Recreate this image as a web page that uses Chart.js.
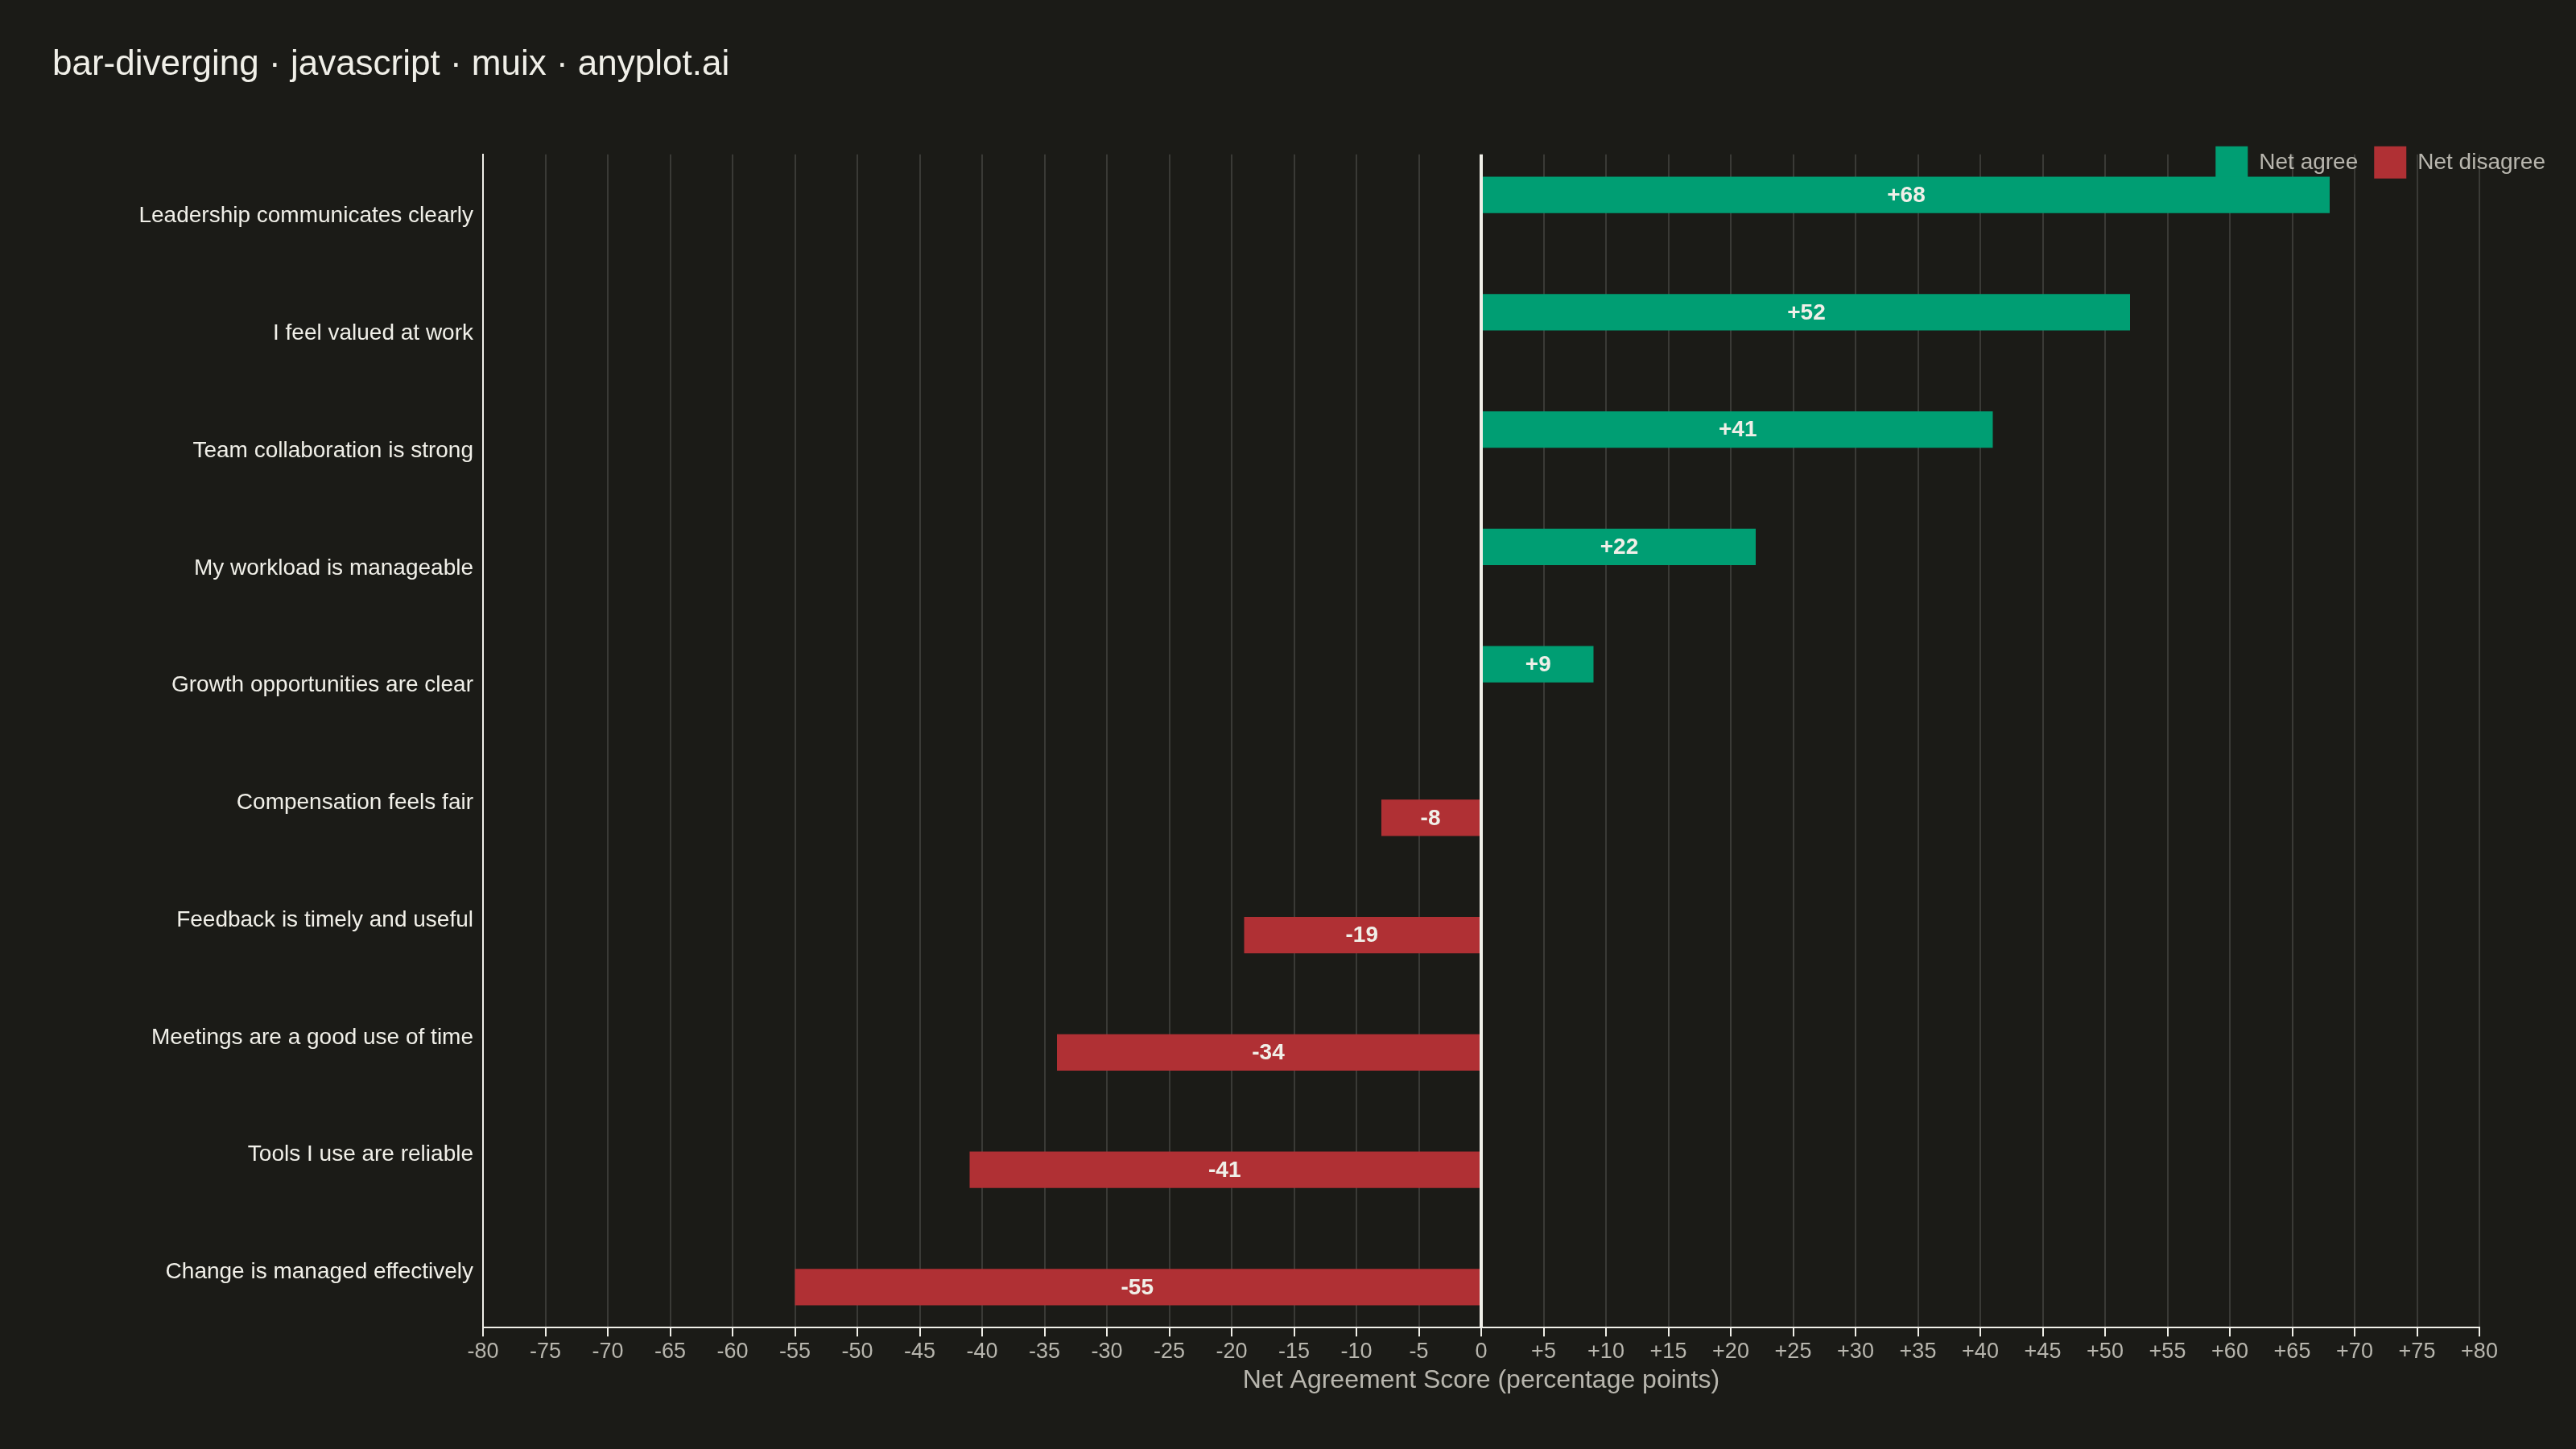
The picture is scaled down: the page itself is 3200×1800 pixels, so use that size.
<!DOCTYPE html>
<html>
<head>
<meta charset="utf-8">
<title>bar-diverging</title>
<script src="https://cdn.jsdelivr.net/npm/chart.js@4.4.1/dist/chart.umd.min.js"></script>
<style>
  html, body { margin: 0; padding: 0; background: #1b1b17; }
  #wrap { width: 3200px; height: 1800px; }
</style>
</head>
<body>
<div id="wrap"><canvas id="diverging" width="3200" height="1800"></canvas></div>
<script>
const statements = [
  "Leadership communicates clearly",
  "I feel valued at work",
  "Team collaboration is strong",
  "My workload is manageable",
  "Growth opportunities are clear",
  "Compensation feels fair",
  "Feedback is timely and useful",
  "Meetings are a good use of time",
  "Tools I use are reliable",
  "Change is managed effectively",
];
const netAgree = [68, 52, 41, 22, 9, null, null, null, null, null];
const netDisagree = [null, null, null, null, null, -8, -19, -34, -41, -55];
const scoreMin = -80;
const scoreMax = 80;
const scoreStep = 5;

const BG = "#1b1b17";
const CREAM = "#f0efe8";
const GRAY = "#b8b6ae";
const GRID = "#3a3a36";
const FONT = '"Liberation Sans", Arial, sans-serif';

Chart.defaults.font.family = FONT;

var signed = function (v) {
  return v > 0 ? "+" + v : String(v);
};

// paint the dark background behind everything
const background = {
  id: "background",
  beforeDraw(chart) {
    const ctx = chart.ctx;
    ctx.save();
    ctx.fillStyle = BG;
    ctx.fillRect(0, 0, chart.width, chart.height);
    ctx.restore();
  },
};

// legend sits in the top-right corner and overlaps the plot a little
const legendPlacement = {
  id: "legendPlacement",
  beforeUpdate(chart) {
    const legend = chart.legend;
    if (!legend || legend._squeezed) return;
    const fit = legend.fit;
    legend.fit = function () {
      fit.call(this);
      this._fullHeight = this.height;
      this.height = 30;
    };
    legend._squeezed = true;
  },
  afterLayout(chart) {
    const legend = chart.legend;
    legend.left += 102;
    legend.right += 102;
    // give the clip box back its real height so the items are not cut off
    legend.height = legend._fullHeight;
    legend.bottom = legend.top + legend._fullHeight;
  },
};

// value labels in the middle of each bar
const barLabels = {
  id: "barLabels",
  afterDatasetsDraw(chart) {
    const ctx = chart.ctx;
    ctx.save();
    ctx.font = "bold 28px " + FONT;
    ctx.fillStyle = CREAM;
    ctx.textAlign = "center";
    ctx.textBaseline = "middle";
    chart.data.datasets.forEach(function (ds, i) {
      chart.getDatasetMeta(i).data.forEach(function (bar, j) {
        const v = ds.data[j];
        if (v === null || v === undefined) return;
        ctx.fillText(signed(v), (bar.x + bar.base) / 2, bar.y + 1);
      });
    });
    ctx.restore();
  },
};

new Chart("diverging", {
  type: "bar",
  data: {
    labels: statements,
    datasets: [
      {
        label: "Net agree",
        data: netAgree,
        backgroundColor: "#009e73",
        borderWidth: 0,
      },
      {
        label: "Net disagree",
        data: netDisagree,
        backgroundColor: "#b03034",
        borderWidth: 0,
      },
    ],
  },
  options: {
    indexAxis: "y",
    responsive: false,
    animation: false,
    devicePixelRatio: 1,
    categoryPercentage: 0.62,
    barPercentage: 1.0,
    layout: {
      padding: { top: 0, right: 120, bottom: 66, left: 65 },
    },
    plugins: {
      title: {
        display: true,
        text: "bar-diverging · javascript · muix · anyplot.ai",
        align: "start",
        color: CREAM,
        font: { size: 44, weight: "normal" },
        padding: { top: 54, bottom: 55 },
      },
      legend: {
        position: "top",
        align: "end",
        labels: {
          boxWidth: 40,
          boxHeight: 40,
          padding: 20,
          color: GRAY,
          font: { size: 28 },
        },
      },
      tooltip: { enabled: false },
    },
    scales: {
      x: {
        min: scoreMin,
        max: scoreMax,
        ticks: {
          stepSize: scoreStep,
          autoSkip: false,
          maxRotation: 0,
          color: GRAY,
          font: { size: 27 },
          padding: 3,
          callback: function (v) {
            return signed(v);
          },
        },
        grid: {
          color: function (ctx) {
            return ctx.tick && ctx.tick.value === 0 ? CREAM : GRID;
          },
          lineWidth: function (ctx) {
            return ctx.tick && ctx.tick.value === 0 ? 4 : 2;
          },
          tickColor: CREAM,
          tickLength: 11,
          tickWidth: 2,
        },
        border: { color: CREAM, width: 2 },
        title: {
          display: true,
          text: "Net Agreement Score (percentage points)",
          color: GRAY,
          font: { size: 32 },
          padding: { top: -3, bottom: 0 },
        },
      },
      y: {
        afterFit: function (scale) {
          scale.width = 535;
        },
        ticks: { color: CREAM, font: { size: 28 }, padding: 4, labelOffset: 4 },
        grid: { display: false },
        border: { color: CREAM, width: 2 },
      },
    },
  },
  plugins: [background, legendPlacement, barLabels],
});
</script>
</body>
</html>
